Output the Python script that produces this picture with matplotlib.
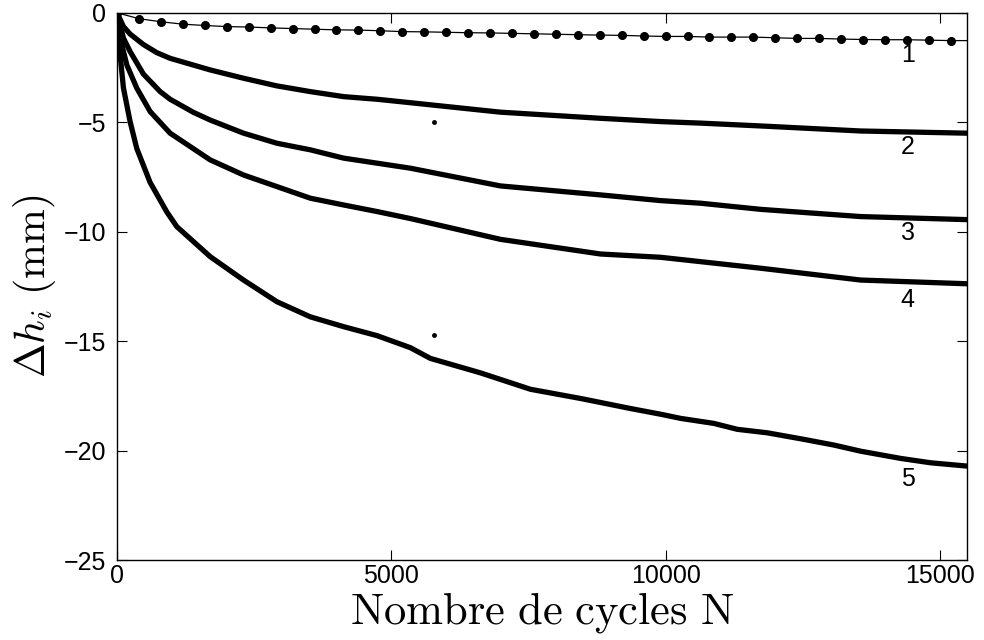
import numpy as np
import matplotlib.pyplot as plt

plt.rcParams['mathtext.fontset'] = 'cm'
plt.rcParams['font.family'] = ['Liberation Sans', 'DejaVu Sans']

# Tassement cumulé par couche (mm) en fonction du nombre de cycles
N1 = [0, 400, 800, 1200, 1600, 2000, 2400, 2800, 3200, 3600, 4000, 4400, 4800,
      5200, 5600, 6000, 6400, 6800, 7200, 7600, 8000, 8400, 8800, 9200, 9600,
      10000, 10400, 10800, 11200, 11600, 12000, 12400, 12800, 13200, 13600,
      14000, 14400, 14800, 15200]
dh1 = [0, -0.27, -0.41, -0.52, -0.58, -0.63, -0.65, -0.69, -0.72, -0.75, -0.78,
       -0.79, -0.82, -0.86, -0.87, -0.89, -0.91, -0.92, -0.94, -0.96, -0.98,
       -1.00, -1.02, -1.03, -1.06, -1.08, -1.08, -1.11, -1.11, -1.11, -1.14,
       -1.17, -1.17, -1.20, -1.22, -1.23, -1.23, -1.25, -1.27]
dh1_fin = -1.27

N2 = [0, 116, 237, 480, 724, 967, 1697, 2305, 2914, 3522, 4130, 4739, 5164,
      6989, 8814, 9909, 10639, 11734, 13558, 15500]
dh2 = [0, -0.63, -0.97, -1.45, -1.82, -2.08, -2.61, -2.99, -3.34, -3.60, -3.83,
       -3.95, -4.06, -4.54, -4.82, -4.97, -5.04, -5.17, -5.40, -5.50]

N3 = [0, 116, 237, 480, 785, 967, 1393, 1697, 2305, 2914, 3522, 4130, 4739,
      5347, 6989, 8814, 9909, 10639, 11734, 13558, 15500]
dh3 = [0, -1.16, -1.77, -2.80, -3.60, -3.95, -4.55, -4.90, -5.50, -5.96, -6.26,
       -6.64, -6.87, -7.10, -7.91, -8.32, -8.58, -8.70, -8.98, -9.31, -9.45]

N4 = [0, 55, 177, 359, 602, 967, 1697, 2305, 2914, 3522, 4130, 4739, 5347,
      6989, 8814, 9909, 10639, 11734, 13558, 15500]
dh4 = [0, -1.16, -2.38, -3.44, -4.51, -5.50, -6.72, -7.41, -7.94, -8.47, -8.78,
       -9.08, -9.40, -10.35, -11.02, -11.17, -11.37, -11.67, -12.21, -12.38]

N5 = [0, 24, 116, 237, 359, 602, 907, 1089, 1697, 2305, 2914, 3522, 4130, 4739,
      5347, 5712, 6624, 6989, 7536, 8449, 9361, 9909, 10274, 10881, 11308,
      11856, 12524, 13071, 13558, 14288, 14836, 15500]
dh5 = [0, -1.16, -3.44, -4.97, -6.20, -7.75, -9.10, -9.77, -11.14, -12.21,
       -13.20, -13.89, -14.34, -14.75, -15.30, -15.79, -16.45, -16.75, -17.20,
       -17.62, -18.08, -18.34, -18.53, -18.76, -19.03, -19.19, -19.49, -19.75,
       -20.03, -20.36, -20.56, -20.71]

# points isolés
N_out = [5772, 5772]
dh_out = [-4.97, -14.72]

labels = ['1', '2', '3', '4', '5']
lab_y = [-1.92, -6.11, -10.06, -13.12, -21.28]
lab_x = 14416

fig = plt.figure(figsize=(9.84, 6.4), dpi=100)
ax = fig.add_axes([0.119, 0.125, 0.864, 0.855])

ax.plot(N1 + [15500], dh1 + [dh1_fin], color='k', lw=0.9)
ax.plot(N1, dh1, 'o', color='k', ms=5.5)
for N, dh in [(N2, dh2), (N3, dh3), (N4, dh4), (N5, dh5)]:
    ax.plot(N, dh, color='k', lw=3.8, solid_capstyle='round',
            solid_joinstyle='round')
ax.plot(N_out, dh_out, 'o', color='k', ms=2.5)

for t, y in zip(labels, lab_y):
    ax.text(lab_x, y, t, fontsize=18, ha='center', va='center')

ax.set_xlim(0, 15500)
ax.set_ylim(-25, 0)
ax.set_xticks([0, 5000, 10000, 15000])
ax.set_yticks([0, -5, -10, -15, -20, -25])
ax.set_yticklabels(['0', '\u22125', '\u221210', '\u221215', '\u221220', '\u221225'])
ax.tick_params(direction='in', length=7, width=0.8, top=True, right=True,
               labelsize=18)
ax.tick_params(axis='x', pad=3)
ax.tick_params(axis='y', pad=8)
for s in ax.spines.values():
    s.set_linewidth(1.0)

ax.set_xlabel(r'$\mathrm{Nombre\ de\ cycles\ N}$', fontsize=32, labelpad=1)
ax.set_ylabel(r'$\Delta h_i\ \mathrm{(mm)}$', fontsize=30, labelpad=4)

fig.savefig('out.png', dpi=100)
